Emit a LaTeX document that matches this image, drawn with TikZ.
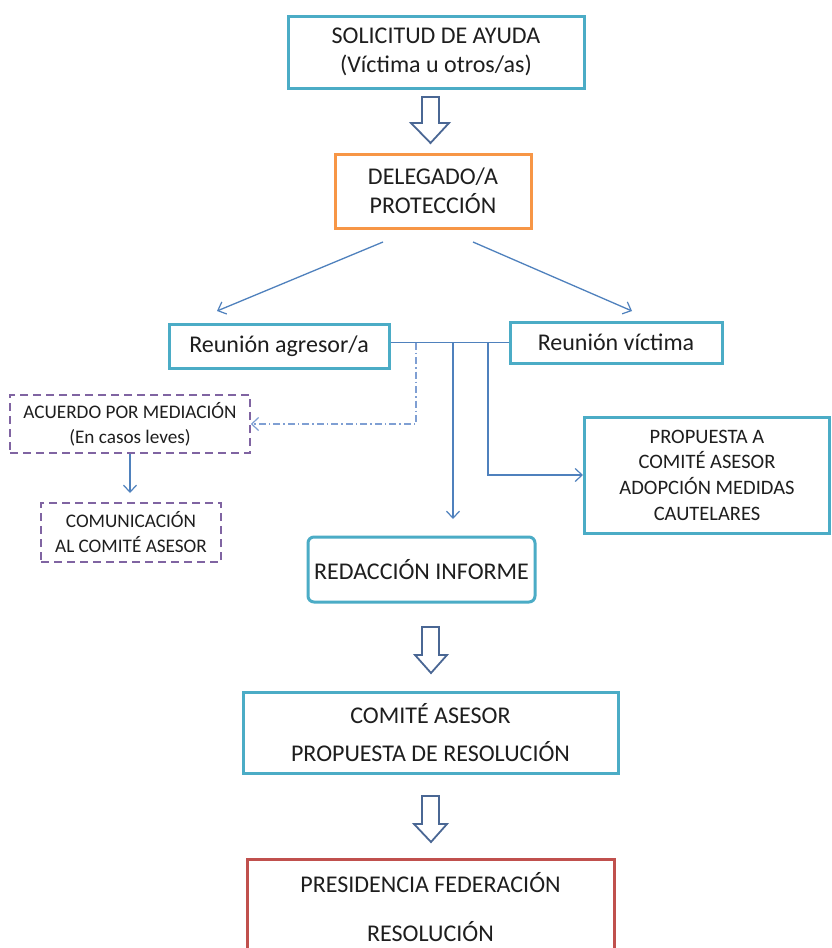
\documentclass[tikz,border=0pt]{standalone}
\usepackage{fontspec}
\setmainfont{Carlito}
\usetikzlibrary{arrows.meta}
\definecolor{teal1}{HTML}{4BACC6}
\definecolor{orng}{HTML}{F79646}
\definecolor{redb}{HTML}{C0504D}
\definecolor{purp}{HTML}{8064A2}
\definecolor{arrb}{HTML}{4F81BD}
\definecolor{arrl}{HTML}{7F9FD3}
\definecolor{holl}{HTML}{4A6794}
\definecolor{txt}{HTML}{1E1E1E}
\tikzset{
  basebox/.style={rectangle, inner sep=0pt, align=center, text=txt, line width=3pt,
    font=\fontsize{24}{29.3}\selectfont},
  tealbox/.style={basebox, draw=teal1},
  orangebox/.style={basebox, draw=orng},
  redbox/.style={basebox, draw=redb},
  purpbox/.style={basebox, draw=purp, line width=1.5pt, dash pattern=on 8pt off 5pt,
    font=\fontsize{19.2}{25}\selectfont},
  conn/.style={draw=arrb, line width=1.3pt, -{Straight Barb[length=7pt,width=13pt,line width=1.2pt]}},
  plainconn/.style={draw=arrb, line width=1.3pt},
  dashconn/.style={draw=arrl, line width=1.3pt, dash pattern=on 7pt off 3pt on 1.5pt off 3pt,
    -{Straight Barb[length=7pt,width=13pt,line width=1.2pt]}},
  hollow/.style={draw=holl, line width=1.8pt, fill=white, line join=miter}
}
\begin{document}
\begin{tikzpicture}[x=1pt,y=-1pt]
\useasboundingbox (0,0) rectangle (832,948);
\clip (0,0) rectangle (832,948);
\fill[white] (0,0) rectangle (832,948);

% boxes
\node[tealbox, minimum width=296, minimum height=72] (sol) at (436,52) {SOLICITUD DE AYUDA\\(Víctima u otros/as)};
\node[orangebox, minimum width=196, minimum height=74] (del) at (433,191) {DELEGADO/A\\PROTECCIÓN};
\node[tealbox, minimum width=220, minimum height=44] (agr) at (279,346) {Reunión agresor/a};
\node[tealbox, minimum width=212, minimum height=41] (vic) at (616,342.5) {Reunión víctima};
\node[purpbox, minimum width=240, minimum height=58] (acu) at (130,424) {ACUERDO POR MEDIACIÓN\\(En casos leves)};
\node[purpbox, minimum width=180, minimum height=59] (com) at (131,532.5) {COMUNICACIÓN\\AL COMITÉ ASESOR};
\node[tealbox, minimum width=245, minimum height=116, font=\fontsize{20.5}{25.7}\selectfont] (pro) at (707,475) {PROPUESTA A\\COMITÉ ASESOR\\ADOPCIÓN MEDIDAS\\CAUTELARES};
\node[tealbox, rounded corners=6pt, minimum width=227, minimum height=65] (red) at (421.5,569.5) {REDACCIÓN INFORME};
\node[tealbox, minimum width=375, minimum height=81] (cas) at (430.5,732.5) {COMITÉ ASESOR\\[8pt]PROPUESTA DE RESOLUCIÓN};
\node[redbox, minimum width=367, minimum height=96] (pre) at (430.5,907) {PRESIDENCIA FEDERACIÓN\\[20pt]RESOLUCIÓN};

% hollow arrows
\draw[hollow] (422,97) -- (439,97) -- (439,123) -- (449,123) -- (430.5,143) -- (411,123) -- (422,123) -- cycle;
\draw[hollow] (422,627) -- (439,627) -- (439,655) -- (447,655) -- (431,673) -- (415,655) -- (422,655) -- cycle;
\draw[hollow] (422,796) -- (439,796) -- (439,824) -- (447,824) -- (431,842) -- (414,824) -- (422,824) -- cycle;

% connectors
\coordinate (dl) at (383,242);
\coordinate (dle) at (217,311);
\coordinate (dr) at (473,242);
\coordinate (dre) at (632,311);
\draw[conn] (dl) -- (dle);
\draw[conn] (dr) -- (dre);

\draw[plainconn] (agr.east |- vic.west) -- (vic.west);
\coordinate (j1) at (416,342.5);
\coordinate (j2) at (453,342.5);
\coordinate (j3) at (488,342.5);
\coordinate (e2) at (453,519);
\draw[dashconn] (j1) |- (acu.east);
\draw[conn] (j2) -- (e2);
\draw[conn] (j3) |- (pro.west);

\coordinate (c1) at (130,493);
\draw[conn] (acu.south) -- (c1);
\end{tikzpicture}
\end{document}
